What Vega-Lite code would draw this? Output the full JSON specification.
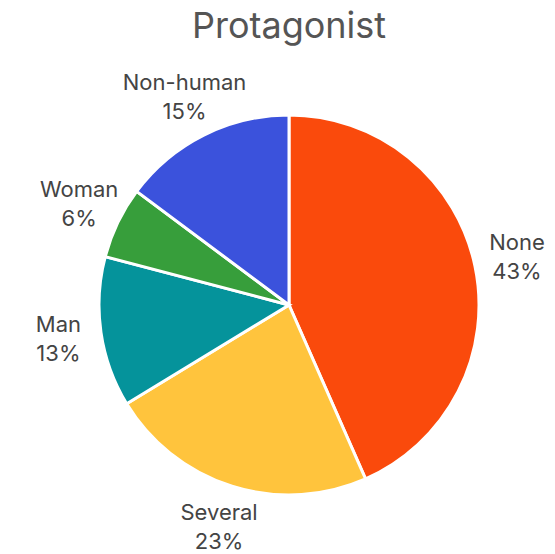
{
  "$schema": "https://vega.github.io/schema/vega-lite/v6.json",
  "width": 500,
  "height": 480,
  "autosize": {"type": "none"},
  "padding": {"left": 39, "top": 65, "right": 16, "bottom": 9},
  "background": "white",
  "title": {"text": "Protagonist", "fontSize": 36, "font": "Inter", "fontWeight": "normal", "color": "#555555", "anchor": "middle", "offset": 19},
  "config": {"view": {"stroke": null}},
  "data": {"values": [
    {"category": "None", "value": 43.4, "label": "43%", "rank": 1},
    {"category": "Several", "value": 22.9, "label": "23%", "rank": 2},
    {"category": "Man", "value": 12.8, "label": "13%", "rank": 3},
    {"category": "Woman", "value": 6.1, "label": "6%", "rank": 4},
    {"category": "Non-human", "value": 14.8, "label": "15%", "rank": 5}
  ]},
  "encoding": {
    "theta": {"field": "value", "type": "quantitative", "stack": true},
    "order": {"field": "rank", "type": "quantitative"},
    "color": {"field": "category", "type": "nominal", "legend": null,
      "scale": {"domain": ["None", "Several", "Man", "Woman", "Non-human"],
                "range": ["#fa4a0c", "#ffc43d", "#05939b", "#379e3b", "#3b52dc"]}}
  },
  "layer": [
    {"mark": {"type": "arc", "outerRadius": 190, "stroke": "white", "strokeWidth": 3}},
    {"mark": {"type": "text", "radius": 233, "fontSize": 22, "font": "Inter", "color": "#444444", "lineBreak": "\n", "lineHeight": 29, "baseline": "middle", "align": "center", "dy": -14},
     "encoding": {"text": {"field": "txt"}, "color": {"value": "#444444"}},
     "transform": [{"calculate": "datum.category + '\\n' + datum.label", "as": "txt"}]}
  ]
}
